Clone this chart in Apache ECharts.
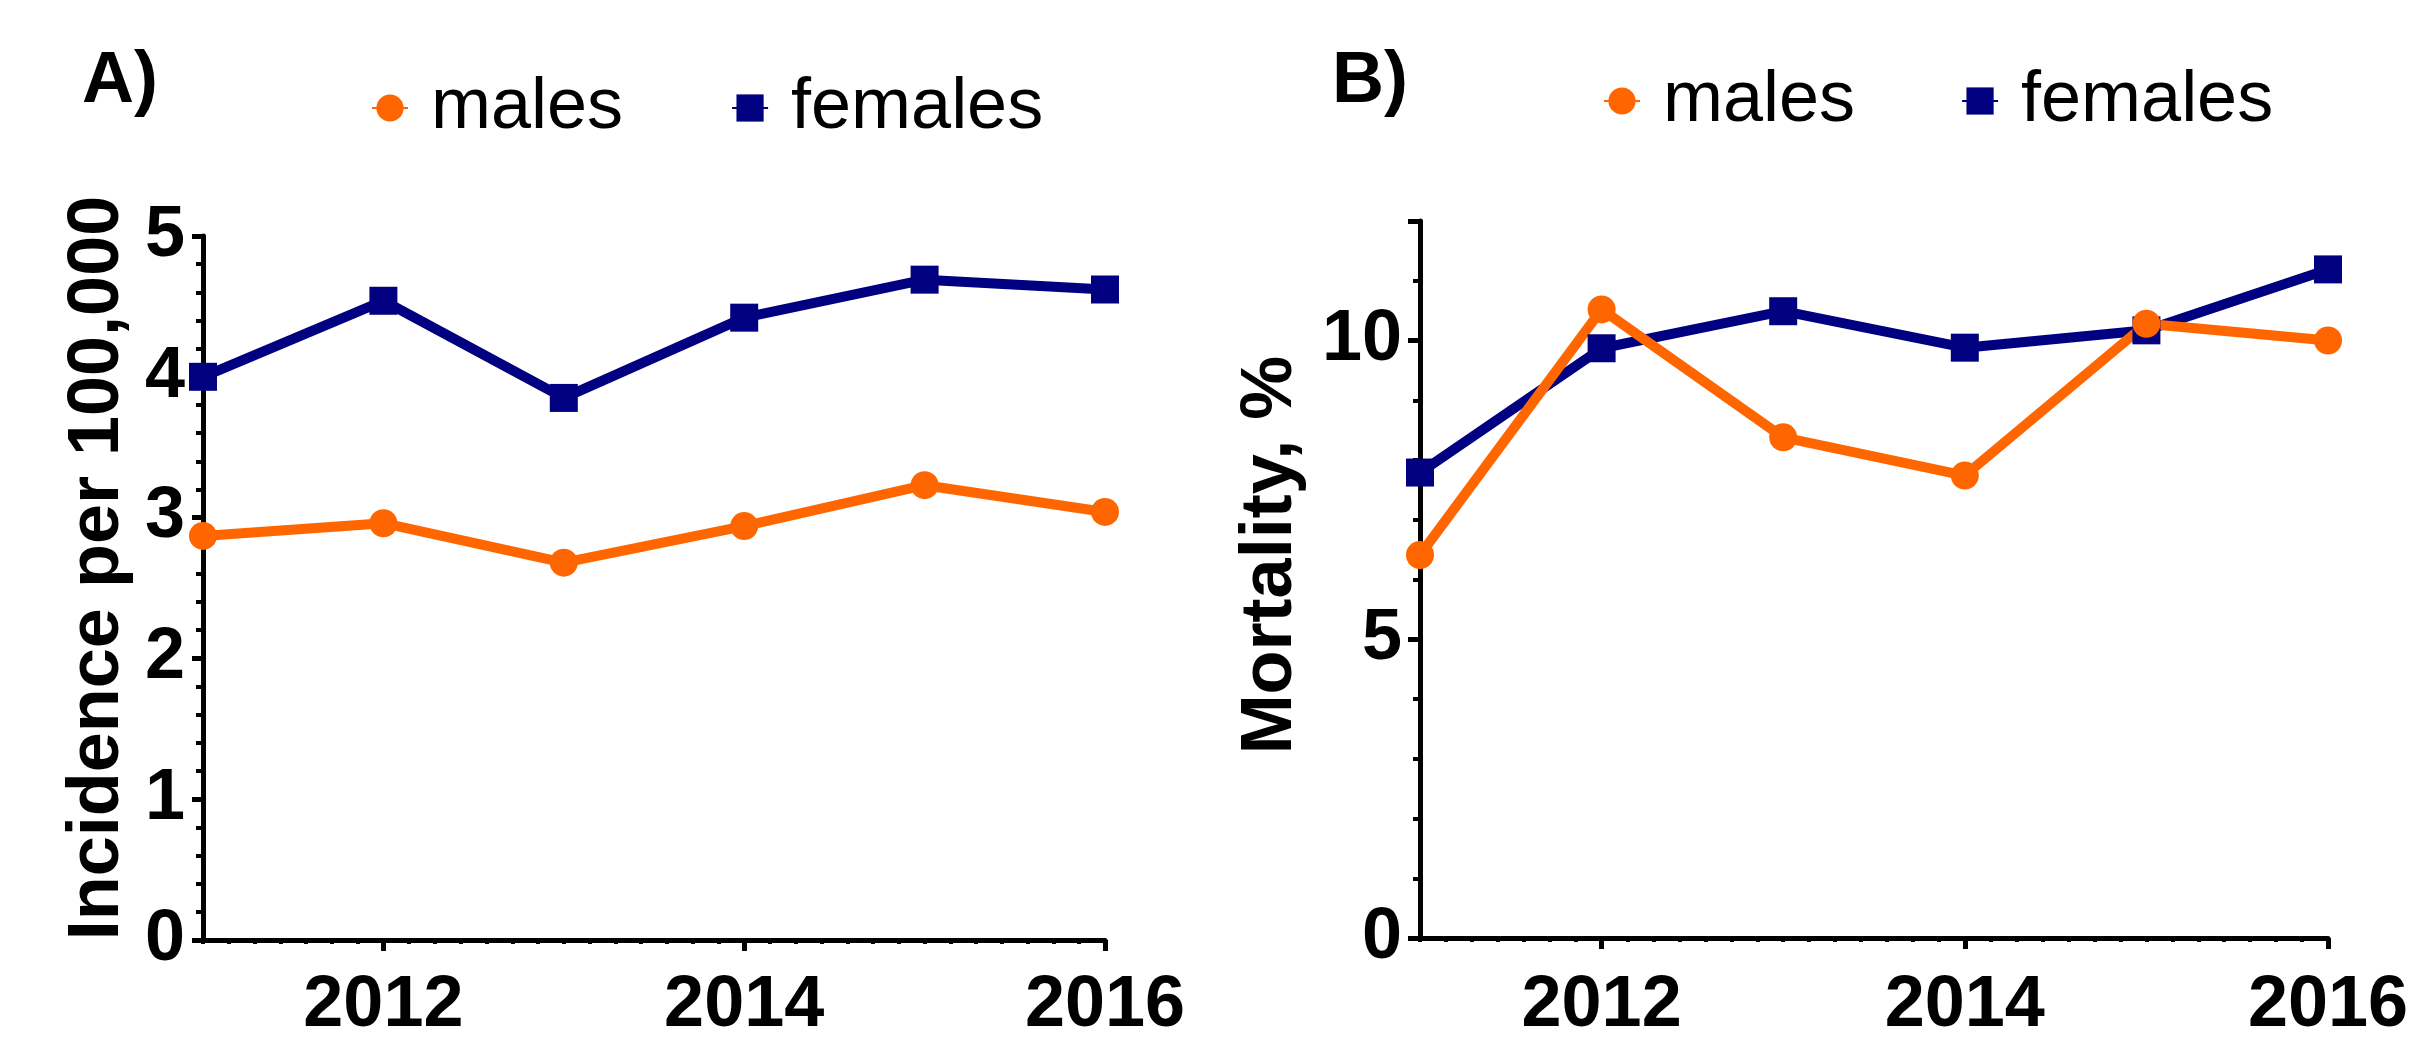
<!DOCTYPE html>
<html>
<head>
<meta charset="utf-8">
<script src="https://cdn.jsdelivr.net/npm/echarts@6/dist/echarts.min.js"></script>
<style>
html,body{margin:0;padding:0;background:#fff;}
#chart{width:2421px;height:1042px;}
</style>
</head>
<body>
<div id="chart"></div>
<script>
// ---- data ----
const years = [2011, 2012, 2013, 2014, 2015, 2016];
const yearLabels = ['2011', '2012', '2013', '2014', '2015', '2016'];
const incidenceMales = [2.87, 2.96, 2.68, 2.94, 3.23, 3.04];
const incidenceFemales = [4.00, 4.54, 3.85, 4.42, 4.69, 4.62];
const mortalityMales = [6.41, 10.52, 8.38, 7.74, 10.28, 10.00];
const mortalityFemales = [7.79, 9.87, 10.49, 9.88, 10.17, 11.19];
const legendNames = ['males', 'females'];
const panelTitles = ['A)', 'B)'];
const yTitles = ['Incidence per 100,000', 'Mortality, %'];

const FONT = "'Liberation Sans', Arial, sans-serif";
const ORANGE = '#FF6600';
const NAVY = '#000080';

const pairs = arr => years.map((y, i) => [y, arr[i]]);

function minorX(grid) {
  return {
    type: 'value', gridIndex: grid, min: 2011, max: 2016, interval: 1, position: 'bottom',
    axisLine: {show: true, lineStyle: {color: '#000', width: 5}},
    axisTick: {show: true, length: 4, lineStyle: {color: '#000', width: 4}},
    minorTick: {show: true, splitNumber: 7, length: 4, lineStyle: {color: '#000', width: 4}},
    axisLabel: {show: false}, splitLine: {show: false}, minorSplitLine: {show: false}
  };
}
function majorX(grid, margin) {
  return {
    type: 'category', gridIndex: grid, data: yearLabels, boundaryGap: false, position: 'bottom',
    axisLine: {show: false},
    axisTick: {show: true, interval: (i) => i % 2 === 1, length: 11, lineStyle: {color: '#000', width: 5}},
    axisLabel: {interval: (i) => i % 2 === 1, fontSize: 72, fontWeight: 'bold', fontFamily: FONT,
      color: '#000', margin: margin, lineHeight: 72},
    splitLine: {show: false}
  };
}
const yLabel = {fontSize: 72, fontWeight: 'bold', fontFamily: FONT, color: '#000', margin: 18, lineHeight: 72};

function lineSeries(name, xi, yi, arr, color, symbol) {
  return {
    name: name, type: 'line', xAxisIndex: xi, yAxisIndex: yi, data: pairs(arr),
    symbol: symbol, symbolSize: 28, showSymbol: true,
    lineStyle: {color: color, width: 10}, itemStyle: {color: color},
    emphasis: {disabled: true}, animation: false
  };
}
function legend(left, top, gap) {
  return {
    data: legendNames, left: left, top: top, itemGap: gap, itemWidth: 36, itemHeight: 34,
    textStyle: {fontSize: 72, fontFamily: FONT, color: '#000', lineHeight: 80, padding: [0, 0, 0, 18]},
    selectedMode: false
  };
}

const option = {
  backgroundColor: '#fff',
  animation: false,
  title: [
    {text: panelTitles[0], left: 77, top: 41, textStyle: {fontSize: 72, fontWeight: 'bold', fontFamily: FONT, color: '#000', lineHeight: 72}},
    {text: panelTitles[1], left: 1327, top: 41, textStyle: {fontSize: 72, fontWeight: 'bold', fontFamily: FONT, color: '#000', lineHeight: 72}}
  ],
  legend: [legend(366, 63, 108), legend(1598, 56, 106)],
  grid: [
    {left: 203, top: 236, width: 902, height: 717},
    {left: 1420, top: 221, width: 908, height: 722}
  ],
  xAxis: [minorX(0), majorX(0, 30), minorX(1), majorX(1, 32)],
  yAxis: [
    {type: 'value', gridIndex: 0, position: 'left', min: 0, max: 5, interval: 1,
      axisLine: {show: true, lineStyle: {color: '#000', width: 5}},
      axisTick: {show: true, length: 11, lineStyle: {color: '#000', width: 5}},
      minorTick: {show: true, splitNumber: 5, length: 7, lineStyle: {color: '#000', width: 4}},
      axisLabel: yLabel, splitLine: {show: false}, minorSplitLine: {show: false}},
    {type: 'value', gridIndex: 1, position: 'left', min: 0, max: 12, interval: 1,
      axisLine: {show: true, lineStyle: {color: '#000', width: 5}},
      axisTick: {show: true, length: 7, lineStyle: {color: '#000', width: 4}},
      axisLabel: {show: false}, splitLine: {show: false}},
    {type: 'value', gridIndex: 1, position: 'left', offset: 0, min: 0, max: 12, interval: 5,
      axisLine: {show: false},
      axisTick: {show: true, length: 12, lineStyle: {color: '#000', width: 5}},
      axisLabel: Object.assign({}, yLabel, {formatter: v => (v % 5 === 0 ? String(v) : '')}),
      splitLine: {show: false}}
  ],
  graphic: [
    {type: 'text', x: 98, y: 568, rotation: Math.PI / 2,
      style: {text: yTitles[0], font: "bold 72px 'Liberation Sans', Arial, sans-serif", fill: '#000', align: 'center', verticalAlign: 'middle'}},
    {type: 'text', x: 1271, y: 555, rotation: Math.PI / 2,
      style: {text: yTitles[1], font: "bold 72px 'Liberation Sans', Arial, sans-serif", fill: '#000', align: 'center', verticalAlign: 'middle'}}
  ],
  series: [
    lineSeries('females', 0, 0, incidenceFemales, NAVY, 'rect'),
    lineSeries('males', 0, 0, incidenceMales, ORANGE, 'circle'),
    lineSeries('females', 2, 1, mortalityFemales, NAVY, 'rect'),
    lineSeries('males', 2, 1, mortalityMales, ORANGE, 'circle')
  ]
};

const chart = echarts.init(document.getElementById('chart'), null, {renderer: 'canvas'});
chart.setOption(option);
</script>
</body>
</html>
